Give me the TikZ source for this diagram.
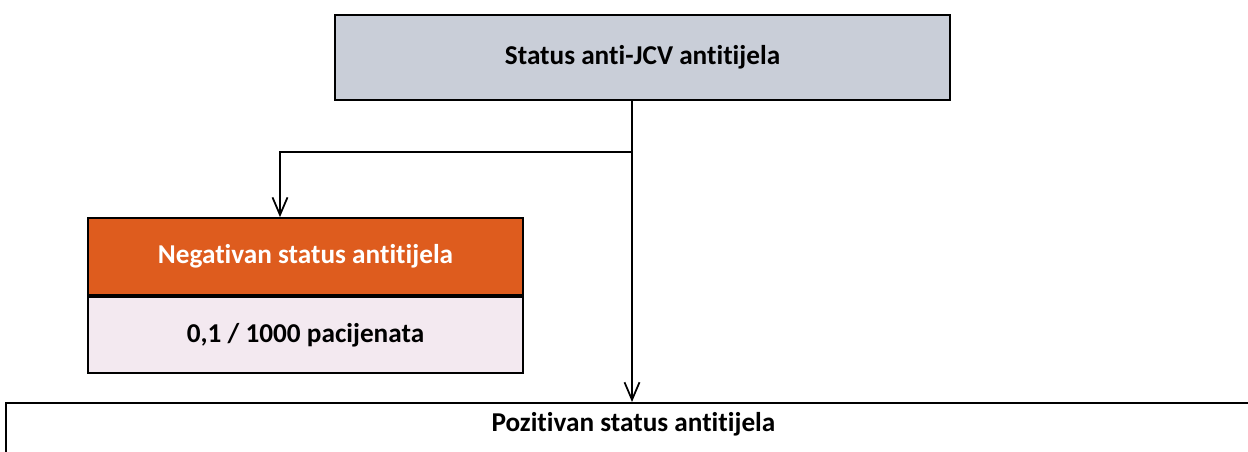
\documentclass[tikz,border=0pt]{standalone}
\usepackage{fontspec}
\setmainfont{Carlito}[Ligatures=NoCommon]
\usetikzlibrary{positioning,arrows.meta}

\definecolor{topgray}{RGB}{201,206,216}
\definecolor{negorange}{RGB}{222,92,30}
\definecolor{negpink}{RGB}{243,233,240}

\begin{document}
\begin{tikzpicture}[
    every node/.style={font=\fontsize{15.5}{18}\selectfont\bfseries},
    statbox/.style={
        draw=black,
        line width=1pt,
        text=black,
        align=center,
        anchor=center,
        inner sep=0pt,
    },
    arr/.style={
        line width=1pt,
        -{Straight Barb[length=0.35cm, width=0.3cm, line width=1pt]},
    },
]

% Frame of the scan
\useasboundingbox (0, 0) rectangle (24.96, 9.04);

% Box widths
\def\wTop{12.3}
\def\wNeg{8.7}
\def\wPos{25.1}

% Y positions
\def\yTop{7.89}
\def\ySplit{6.0}
\def\yNeg{3.91}
\def\yPos{1.0}

% --- Antibody status ---
\node[statbox, fill=topgray, minimum width=\wTop cm, minimum height=1.7cm] (status)
    at (12.85, \yTop) {Status anti-JCV antitijela};

% --- Negative status ---
\node[statbox, fill=negorange, text=white, minimum width=\wNeg cm, minimum height=1.54cm] (negtop)
    at (6.11, \yNeg) {Negativan status antitijela};
\node[statbox, fill=negpink, minimum width=\wNeg cm, minimum height=1.52cm,
    below=0pt of negtop] (negbot) {0,1 / 1000 pacijenata};

% --- Positive status ---
\node[statbox, fill=white, anchor=north west, minimum width=\wPos cm,
    inner ysep=0.17cm, text height=0.4cm, text depth=1cm] (pos)
    at (0.1, \yPos) {Pozitivan status antitijela};

% Branching point
\coordinate (split) at (12.64, \ySplit);
\coordinate (negin) at (5.6, \ySplit);

% Connectors
\draw[arr] (status.south -| split) -- (pos.north -| split);
\draw[arr] (split) -- (negin) -- (negin |- negtop.north);

\end{tikzpicture}
\end{document}
